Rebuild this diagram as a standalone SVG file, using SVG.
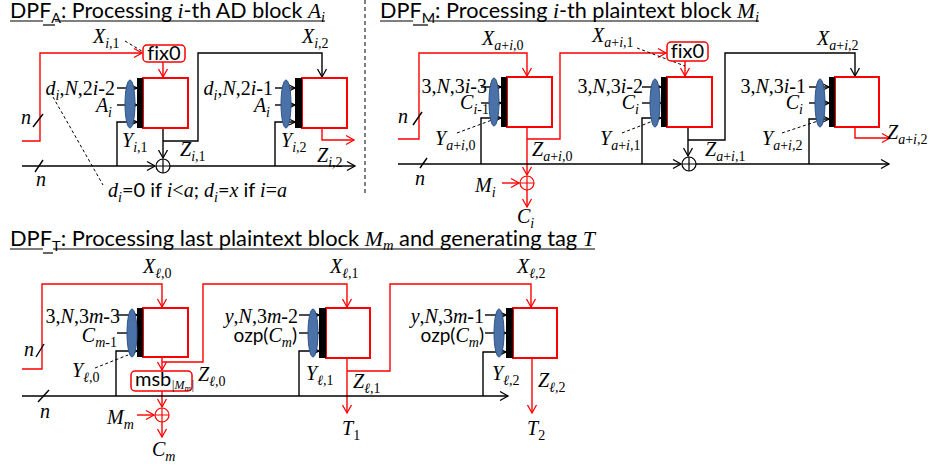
<svg xmlns="http://www.w3.org/2000/svg" width="931" height="467" viewBox="0 0 931 467">
<defs>
<style>
.k{stroke:#000;stroke-width:1.4;fill:none}
.r{stroke:#f00;stroke-width:1.4;fill:none}
.d{stroke:#000;stroke-width:1;fill:none;stroke-dasharray:3,2.5}
.blk{fill:#fff;stroke:#f00;stroke-width:2}
.bar{fill:#000}
.ell{fill:#4a72a8;stroke:#2e5387;stroke-width:1}
.box{fill:#fff;stroke:#f00;stroke-width:1.5}
.x{stroke:#000;stroke-width:1.2;fill:none}
.xr{stroke:#f00;stroke-width:1.2;fill:none}
text{font-family:"Liberation Serif",serif;font-size:20px;font-style:italic;fill:#000}
.up{font-style:normal}
.s{font-size:14px}
.sans{font-family:Lato,"Liberation Sans",sans-serif;font-style:normal;font-variant-ligatures:none}
.title{font-family:Lato,"Liberation Sans",sans-serif;font-style:normal;font-size:21px;font-variant-ligatures:none}
.it{font-family:"Liberation Serif",serif;font-style:italic}
.ul{stroke:#000;stroke-width:1.2}
</style>
<marker id="ak" markerUnits="userSpaceOnUse" markerWidth="12" markerHeight="12" refX="10" refY="6" orient="auto"><path d="M2,1.5 L10,6 L2,10.5" fill="none" stroke="#000" stroke-width="1.3"/></marker>
<marker id="ar" markerUnits="userSpaceOnUse" markerWidth="12" markerHeight="12" refX="10" refY="6" orient="auto"><path d="M2,1.5 L10,6 L2,10.5" fill="none" stroke="#f00" stroke-width="1.3"/></marker>
<marker id="as" markerUnits="userSpaceOnUse" markerWidth="8" markerHeight="8" refX="7" refY="4" orient="auto"><path d="M1,1 L7,4 L1,7" fill="none" stroke="#000" stroke-width="1.2"/></marker>
</defs>
<rect width="931" height="467" fill="#fff"/>

<!-- titles -->
<g id="titles">
<text class="title" x="10" y="18" textLength="315" lengthAdjust="spacingAndGlyphs">DPF<tspan dy="5" font-size="14">A</tspan><tspan dy="-5">: Processing </tspan><tspan class="it">i</tspan>-th AD block <tspan class="it">A</tspan><tspan class="it" font-size="14" dy="4">i</tspan></text>
<line class="ul" x1="10" y1="21" x2="43" y2="21"/><line class="ul" x1="43" y1="25" x2="55" y2="25"/><line class="ul" x1="55" y1="21" x2="325" y2="21"/>
<text class="title" x="380" y="18" textLength="379" lengthAdjust="spacingAndGlyphs">DPF<tspan dy="5" font-size="14">M</tspan><tspan dy="-5">: Processing </tspan><tspan class="it">i</tspan>-th plaintext block <tspan class="it">M</tspan><tspan class="it" font-size="14" dy="4">i</tspan></text>
<line class="ul" x1="380" y1="21" x2="413" y2="21"/><line class="ul" x1="413" y1="25" x2="428" y2="25"/><line class="ul" x1="428" y1="21" x2="759" y2="21"/>
<text class="title" x="10" y="246" textLength="585" lengthAdjust="spacingAndGlyphs">DPF<tspan dy="5" font-size="14">T</tspan><tspan dy="-5">: Processing last plaintext block </tspan><tspan class="it">M</tspan><tspan class="it" font-size="14" dy="4">m</tspan><tspan dy="-4"> and generating tag </tspan><tspan class="it">T</tspan></text>
<line class="ul" x1="10" y1="249" x2="43" y2="249"/><line class="ul" x1="43" y1="253" x2="53" y2="253"/><line class="ul" x1="53" y1="249" x2="595" y2="249"/>
<line x1="365" y1="0" x2="365" y2="196" stroke="#000" stroke-width="1" stroke-dasharray="4,3"/>
</g>

<!-- connectors -->
<g id="connectors">
<!-- panel A -->
<path class="r" d="M22,141 H40 V53 H142" marker-end="url(#ar)"/>
<path class="r" d="M163,62 V77" marker-end="url(#ar)"/>
<path class="d" d="M125,41 L160,62"/>
<path class="k" d="M163,128 V158" marker-end="url(#ak)"/>
<path class="k" d="M163,141 H198 V53 H322 V77" marker-end="url(#ak)"/>
<path class="k" d="M22,166 H155" marker-end="url(#ak)"/>
<path class="k" d="M170,166 H355" marker-end="url(#ak)"/>
<path class="k" d="M117,166 V122 H137" marker-end="url(#as)"/>
<path class="k" d="M117,88 H137" marker-end="url(#as)"/>
<path class="k" d="M117,105 H137" marker-end="url(#as)"/>
<path class="k" d="M275,166 V122 H295" marker-end="url(#as)"/>
<path class="k" d="M275,88 H295" marker-end="url(#as)"/>
<path class="k" d="M275,105 H295" marker-end="url(#as)"/>
<path class="r" d="M322,128 V140 H354" marker-end="url(#ar)"/>
<path class="k" d="M35,172 L43,160"/>
<path class="k" d="M33,127 L43,114"/>
<path class="d" d="M53,97 L103,185"/>
<!-- panel M -->
<path class="r" d="M398,139 H419 V53 H527 V76" marker-end="url(#ar)"/>
<path class="r" d="M527,127 V175" marker-end="url(#ar)"/>
<path class="r" d="M527,139 H560 V53 H666" marker-end="url(#ar)"/>
<path class="r" d="M502,183 H519" marker-end="url(#ar)"/>
<path class="r" d="M527,190 V207" marker-end="url(#ar)"/>
<path class="r" d="M685,61 V76" marker-end="url(#ar)"/>
<path class="d" d="M637,48 L685,66"/>
<path class="k" d="M398,164 H681" marker-end="url(#ak)"/>
<path class="k" d="M696,164 H889" marker-end="url(#ak)"/>
<path class="k" d="M688,127 V156" marker-end="url(#ak)"/>
<path class="k" d="M688,140 H725 V53 H855 V76" marker-end="url(#ak)"/>
<path class="k" d="M481,164 V118 H501" marker-end="url(#as)"/>
<path class="k" d="M481,87 H501" marker-end="url(#as)"/>
<path class="k" d="M481,103 H501" marker-end="url(#as)"/>
<path class="k" d="M642,164 V118 H661" marker-end="url(#as)"/>
<path class="k" d="M642,87 H661" marker-end="url(#as)"/>
<path class="k" d="M642,103 H661" marker-end="url(#as)"/>
<path class="k" d="M809,164 V119 H829" marker-end="url(#as)"/>
<path class="k" d="M809,87 H829" marker-end="url(#as)"/>
<path class="k" d="M809,103 H829" marker-end="url(#as)"/>
<path class="r" d="M855,127 V138 H890" marker-end="url(#ar)"/>
<path class="d" d="M457,133 L492,120"/>
<path class="d" d="M622,133 L653,121"/>
<path class="d" d="M782,133 L818,121"/>
<path class="k" d="M420,168 L427,158"/>
<path class="k" d="M413,125 L422,112"/>
<!-- panel T -->
<path class="r" d="M22,369 H42 V284 H162 V307" marker-end="url(#ar)"/>
<path class="r" d="M162,357 V370" marker-end="url(#ar)"/>
<path class="r" d="M162,362 H203 V284 H347 V307" marker-end="url(#ar)"/>
<path class="r" d="M162,391 V407" marker-end="url(#ar)"/>
<path class="r" d="M137,415 H154" marker-end="url(#ar)"/>
<path class="r" d="M162,422 V437" marker-end="url(#ar)"/>
<path class="r" d="M347,358 V413" marker-end="url(#ar)"/>
<path class="r" d="M347,371 H390 V284 H531 V307" marker-end="url(#ar)"/>
<path class="r" d="M532,358 V413" marker-end="url(#ar)"/>
<path class="k" d="M22,396 H508" marker-end="url(#ak)"/>
<path class="k" d="M116,396 V351 H137" marker-end="url(#as)"/>
<path class="k" d="M117,315 H137" marker-end="url(#as)"/>
<path class="k" d="M117,333 H137" marker-end="url(#as)"/>
<path class="k" d="M299,396 V351 H319" marker-end="url(#as)"/>
<path class="k" d="M299,315 H319" marker-end="url(#as)"/>
<path class="k" d="M299,333 H319" marker-end="url(#as)"/>
<path class="k" d="M483,396 V352 H506" marker-end="url(#as)"/>
<path class="k" d="M485,315 H506" marker-end="url(#as)"/>
<path class="k" d="M485,333 H506" marker-end="url(#as)"/>
<path class="d" d="M95,368 L128,355"/>
<path class="k" d="M38,402 L49,390"/>
<path class="k" d="M36,357 L44,344"/>
</g>

<!-- panel A nodes -->
<g id="fix0-A"><rect class="box" x="143" y="45" width="42" height="17" rx="4"/><text class="sans" x="164" y="59.5" font-size="18" text-anchor="middle">fix0</text></g>
<g id="blockA1">
<rect class="blk" x="143" y="78" width="45" height="50"/><rect class="bar" x="137" y="78" width="6" height="50"/>
<ellipse class="ell" cx="130" cy="104" rx="5" ry="24"/>
</g>
<g id="blockA2">
<rect class="blk" x="302" y="78" width="45" height="50"/><rect class="bar" x="295" y="78" width="7" height="50"/>
<ellipse class="ell" cx="286" cy="104" rx="5" ry="24"/>
</g>
<g id="xorA"><circle class="x" cx="163" cy="166" r="7"/><path class="x" d="M156,166 H170 M163,159 V173"/></g>
<g id="labelsA">
<text x="93" y="43">X<tspan class="s" dy="5">i,</tspan><tspan class="s up">1</tspan></text>
<text x="302" y="43">X<tspan class="s" dy="5">i,</tspan><tspan class="s up">2</tspan></text>
<text x="115" y="95" text-anchor="end">d<tspan class="s" dy="5">i</tspan><tspan class="up" dy="-5">,</tspan>N<tspan class="up">,2</tspan>i<tspan class="up">-2</tspan></text>
<text x="112" y="112" text-anchor="end">A<tspan class="s" dy="5">i</tspan></text>
<text x="273" y="95" text-anchor="end">d<tspan class="s" dy="5">i</tspan><tspan class="up" dy="-5">,</tspan>N<tspan class="up">,2</tspan>i<tspan class="up">-1</tspan></text>
<text x="270" y="112" text-anchor="end">A<tspan class="s" dy="5">i</tspan></text>
<text x="122" y="147">Y<tspan class="s" dy="5">i,</tspan><tspan class="s up">1</tspan></text>
<text x="281" y="147">Y<tspan class="s" dy="5">i,</tspan><tspan class="s up">2</tspan></text>
<text x="180" y="156">Z<tspan class="s" dy="5">i,</tspan><tspan class="s up">1</tspan></text>
<text x="317" y="162">Z<tspan class="s" dy="5">i,</tspan><tspan class="s up">2</tspan></text>
<text x="21" y="124">n</text>
<text x="36" y="186">n</text>
<text x="108" y="197" font-size="21">d<tspan class="s" dy="5">i</tspan><tspan class="sans" dy="-5">=0 if </tspan>i<tspan class="up">&lt;</tspan>a<tspan class="sans">; </tspan>d<tspan class="s" dy="5">i</tspan><tspan class="sans" dy="-5">=</tspan>x<tspan class="sans"> if </tspan>i<tspan class="up">=</tspan>a</text>
</g>

<!-- panel M nodes -->
<g id="fix0-M"><rect class="box" x="667" y="42" width="41" height="19" rx="4"/><text class="sans" x="687.5" y="57.5" font-size="18" text-anchor="middle">fix0</text></g>
<g id="blockM1">
<rect class="blk" x="507" y="77" width="45" height="50"/><rect class="bar" x="501" y="77" width="6" height="50"/>
<ellipse class="ell" cx="494" cy="102" rx="5" ry="24"/>
</g>
<g id="blockM2">
<rect class="blk" x="667" y="77" width="45" height="50"/><rect class="bar" x="661" y="77" width="6" height="50"/>
<ellipse class="ell" cx="655" cy="103" rx="5" ry="24"/>
</g>
<g id="blockM3">
<rect class="blk" x="835" y="77" width="44" height="50"/><rect class="bar" x="829" y="77" width="6" height="50"/>
<ellipse class="ell" cx="820" cy="103" rx="5" ry="24"/>
</g>
<g id="xorM1"><circle class="xr" cx="527" cy="183" r="7"/><path class="xr" d="M520,183 H534 M527,176 V190"/></g>
<g id="xorM2"><circle class="x" cx="689" cy="164" r="7"/><path class="x" d="M682,164 H696 M689,157 V171"/></g>
<g id="labelsM">
<text x="482" y="45">X<tspan class="s" dy="5">a</tspan><tspan class="s up">+</tspan><tspan class="s">i,</tspan><tspan class="s up">0</tspan></text>
<text x="592" y="42">X<tspan class="s" dy="5">a</tspan><tspan class="s up">+</tspan><tspan class="s">i,</tspan><tspan class="s up">1</tspan></text>
<text x="817" y="45">X<tspan class="s" dy="5">a</tspan><tspan class="s up">+</tspan><tspan class="s">i,</tspan><tspan class="s up">2</tspan></text>
<text x="487" y="93" text-anchor="end"><tspan class="up">3,</tspan>N<tspan class="up">,3</tspan>i<tspan class="up">-3</tspan></text>
<text x="489" y="109" text-anchor="end">C<tspan class="s" dy="5">i</tspan><tspan class="s up">-1</tspan></text>
<text x="643" y="93" text-anchor="end"><tspan class="up">3,</tspan>N<tspan class="up">,3</tspan>i<tspan class="up">-2</tspan></text>
<text x="639" y="109" text-anchor="end">C<tspan class="s" dy="5">i</tspan></text>
<text x="806" y="93" text-anchor="end"><tspan class="up">3,</tspan>N<tspan class="up">,3</tspan>i<tspan class="up">-1</tspan></text>
<text x="803" y="109" text-anchor="end">C<tspan class="s" dy="5">i</tspan></text>
<text x="435" y="145">Y<tspan class="s" dy="5">a</tspan><tspan class="s up">+</tspan><tspan class="s">i,</tspan><tspan class="s up">0</tspan></text>
<text x="600" y="145">Y<tspan class="s" dy="5">a</tspan><tspan class="s up">+</tspan><tspan class="s">i,</tspan><tspan class="s up">1</tspan></text>
<text x="762" y="145">Y<tspan class="s" dy="5">a</tspan><tspan class="s up">+</tspan><tspan class="s">i,</tspan><tspan class="s up">2</tspan></text>
<text x="532" y="156">Z<tspan class="s" dy="5">a</tspan><tspan class="s up">+</tspan><tspan class="s">i,</tspan><tspan class="s up">0</tspan></text>
<text x="705" y="156">Z<tspan class="s" dy="5">a</tspan><tspan class="s up">+</tspan><tspan class="s">i,</tspan><tspan class="s up">1</tspan></text>
<text x="887" y="139">Z<tspan class="s" dy="5">a</tspan><tspan class="s up">+</tspan><tspan class="s">i,</tspan><tspan class="s up">2</tspan></text>
<text x="475" y="192">M<tspan class="s" dy="5">i</tspan></text>
<text x="517" y="223">C<tspan class="s" dy="5">i</tspan></text>
<text x="398" y="123">n</text>
<text x="415" y="185">n</text>
</g>

<!-- panel T nodes -->
<g id="blockT1">
<rect class="blk" x="143" y="308" width="45" height="49"/><rect class="bar" x="137" y="308" width="6" height="49"/>
<ellipse class="ell" cx="132" cy="333" rx="5" ry="24"/>
</g>
<g id="msb"><rect class="box" x="131" y="371" width="61" height="20" rx="4"/><text class="sans" x="135" y="386" font-size="17">msb<tspan class="it" font-size="12" dy="3">|M</tspan><tspan class="it" font-size="9" dy="2">m</tspan><tspan class="it" font-size="12" dy="-2">|</tspan></text></g>
<g id="xorT"><circle class="xr" cx="162" cy="415" r="7"/><path class="xr" d="M155,415 H169 M162,408 V422"/></g>
<g id="blockT2">
<rect class="blk" x="326" y="308" width="44" height="50"/><rect class="bar" x="319" y="308" width="7" height="50"/>
<ellipse class="ell" cx="313" cy="333" rx="5" ry="24"/>
</g>
<g id="blockT3">
<rect class="blk" x="513" y="308" width="44" height="50"/><rect class="bar" x="506" y="308" width="7" height="50"/>
<ellipse class="ell" cx="499" cy="333" rx="5" ry="24"/>
</g>
<g id="labelsT">
<text x="143" y="273">X<tspan class="s" dy="5">ℓ,</tspan><tspan class="s up">0</tspan></text>
<text x="330" y="273">X<tspan class="s" dy="5">ℓ,</tspan><tspan class="s up">1</tspan></text>
<text x="517" y="273">X<tspan class="s" dy="5">ℓ,</tspan><tspan class="s up">2</tspan></text>
<text x="120" y="323" text-anchor="end"><tspan class="up">3,</tspan>N<tspan class="up">,3</tspan>m<tspan class="up">-3</tspan></text>
<text x="117" y="342" text-anchor="end">C<tspan class="s" dy="5">m</tspan><tspan class="s up">-1</tspan></text>
<text x="298" y="323" text-anchor="end">y<tspan class="up">,</tspan>N<tspan class="up">,3</tspan>m<tspan class="up">-2</tspan></text>
<text x="297" y="342" text-anchor="end"><tspan class="sans" font-size="19">ozp(</tspan>C<tspan class="s" dy="5">m</tspan><tspan class="sans" font-size="19" dy="-5">)</tspan></text>
<text x="484" y="323" text-anchor="end">y<tspan class="up">,</tspan>N<tspan class="up">,3</tspan>m<tspan class="up">-1</tspan></text>
<text x="484" y="342" text-anchor="end"><tspan class="sans" font-size="19">ozp(</tspan>C<tspan class="s" dy="5">m</tspan><tspan class="sans" font-size="19" dy="-5">)</tspan></text>
<text x="72" y="377">Y<tspan class="s" dy="5">ℓ,</tspan><tspan class="s up">0</tspan></text>
<text x="306" y="380">Y<tspan class="s" dy="5">ℓ,</tspan><tspan class="s up">1</tspan></text>
<text x="492" y="380">Y<tspan class="s" dy="5">ℓ,</tspan><tspan class="s up">2</tspan></text>
<text x="198" y="381">Z<tspan class="s" dy="5">ℓ,</tspan><tspan class="s up">0</tspan></text>
<text x="353" y="388">Z<tspan class="s" dy="5">ℓ,</tspan><tspan class="s up">1</tspan></text>
<text x="538" y="387">Z<tspan class="s" dy="5">ℓ,</tspan><tspan class="s up">2</tspan></text>
<text x="107" y="424">M<tspan class="s" dy="5">m</tspan></text>
<text x="152" y="456">C<tspan class="s" dy="5">m</tspan></text>
<text x="342" y="435">T<tspan class="s up" dy="5">1</tspan></text>
<text x="527" y="435">T<tspan class="s up" dy="5">2</tspan></text>
<text x="24" y="356">n</text>
<text x="40" y="418">n</text>
</g>
</svg>
